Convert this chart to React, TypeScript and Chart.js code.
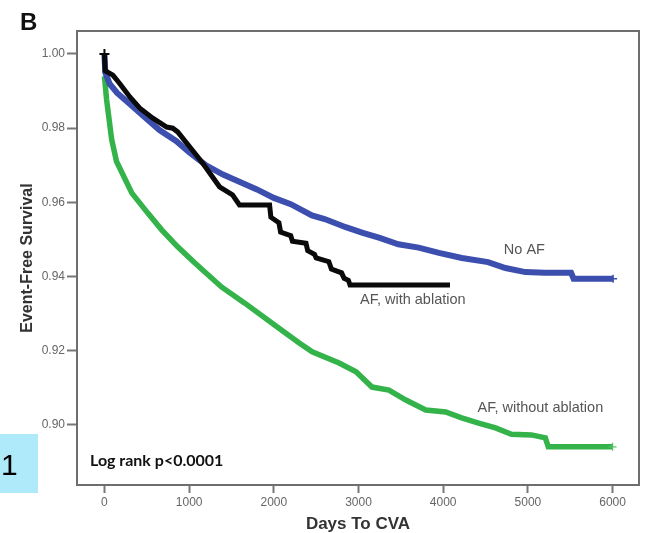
import React, { useEffect, useRef } from "react";
import { Chart, registerables } from "chart.js";
Chart.register(...registerables);

// Tick values
const xTicks = [0, 1000, 2000, 3000, 4000, 5000, 6000];
const yTicks = [0.9, 0.92, 0.94, 0.96, 0.98, 1.0];

// No AF (blue)
const noAfDays = [0, 10, 60, 150, 300, 450, 650, 850, 1000, 1200, 1400, 1600, 1800, 2000, 2200, 2450, 2600, 2850, 3050, 3250, 3470, 3710, 3950, 4220, 4530, 4735, 4970, 5200, 5510, 5540, 6006];
const noAfSurv = [1.0, 0.995, 0.992, 0.9895, 0.9865, 0.9835, 0.9795, 0.9765, 0.9735, 0.97, 0.9675, 0.9655, 0.9635, 0.9612, 0.9595, 0.9565, 0.9555, 0.9533, 0.9518, 0.9504, 0.9487, 0.9478, 0.9464, 0.945, 0.9439, 0.9423, 0.9412, 0.941, 0.941, 0.9394, 0.9394];

// AF, with ablation (black)
const ablDays = [0, 8, 100, 182, 300, 418, 571, 735, 806, 865, 1006, 1159, 1359, 1512, 1594, 1950, 1965, 2060, 2080, 2200, 2220, 2380, 2400, 2480, 2500, 2650, 2680, 2800, 2830, 2880, 2900, 4080];
const ablSurv = [1.0, 0.9955, 0.9943, 0.992, 0.9884, 0.9854, 0.9827, 0.9803, 0.98, 0.979, 0.975, 0.9706, 0.9642, 0.962, 0.9593, 0.9593, 0.956, 0.9545, 0.952, 0.951, 0.9495, 0.949, 0.947, 0.946, 0.945, 0.944, 0.942, 0.941, 0.9395, 0.939, 0.9377, 0.9377];

// AF, without ablation (green)
const noAblDays = [0, 26, 85, 143, 324, 512, 676, 865, 1065, 1382, 1653, 2041, 2300, 2453, 2771, 2971, 3159, 3359, 3559, 3794, 4029, 4218, 4418, 4618, 4806, 5041, 5206, 5241, 6000];
const noAblSurv = [0.994, 0.9876, 0.977, 0.971, 0.9625, 0.9571, 0.9526, 0.948, 0.9437, 0.9372, 0.9329, 0.9264, 0.9221, 0.9197, 0.9167, 0.9143, 0.9102, 0.9094, 0.9067, 0.904, 0.9035, 0.9019, 0.9005, 0.8992, 0.8975, 0.8973, 0.8965, 0.8941, 0.8941];

// Text labels anchored in data coordinates
const curveLabels = [
  { text: "No AF", day: 4959, surv: 0.9472 },
  { text: "AF, with ablation", day: 3641, surv: 0.9337 },
  { text: "AF, without ablation", day: 5147, surv: 0.9046 },
];
const statText = "Log rank p<0.0001";

const toPts = (d: number[], s: number[]) => d.map((x, i) => ({ x, y: s[i] }));

const overlay = {
  id: "overlay",
  afterDraw(chart: any) {
    const { ctx, chartArea: a, scales } = chart;
    const x = scales.x;
    const y = scales.y;
    ctx.save();
    // frame
    ctx.strokeStyle = "#6e6e6e";
    ctx.lineWidth = 2;
    ctx.strokeRect(a.left, a.top, a.right - a.left, a.bottom - a.top);
    // curve labels
    ctx.fillStyle = "#555";
    ctx.font = "14.5px 'Liberation Sans', Arial, sans-serif";
    ctx.textAlign = "center";
    ctx.textBaseline = "middle";
    curveLabels.forEach((l) => {
      ctx.fillText(l.text, x.getPixelForValue(l.day), y.getPixelForValue(l.surv));
    });
    // stat text
    ctx.fillStyle = "#111";
    ctx.font = "bold 16px Lato, 'Open Sans', sans-serif";
    ctx.textAlign = "left";
    ctx.fillText(statText, a.left + 13, y.getPixelForValue(0.8903));
    // panel letter
    ctx.fillStyle = "#111";
    ctx.font = "bold 24px 'Liberation Sans', Arial, sans-serif";
    ctx.textAlign = "left";
    ctx.textBaseline = "alphabetic";
    ctx.fillText("B", 20, 30);
    // "1" badge
    ctx.fillStyle = "#aeeaf9";
    ctx.fillRect(0, 434, 38, 59);
    ctx.fillStyle = "#000";
    ctx.font = "30px 'Liberation Sans', Arial, sans-serif";
    ctx.fillText("1", 1, 475);
    ctx.restore();
  },
};

export default function App() {
  const ref = useRef<HTMLCanvasElement | null>(null);
  useEffect(() => {
    if (!ref.current) return;
    const lastOnly = (n: number, r: number) => (c: any) => (c.dataIndex === n - 1 ? r : 0);
    const chart = new Chart(ref.current, {
      type: "line",
      data: {
        datasets: [
          {
            label: "AF, with ablation",
            data: toPts(ablDays, ablSurv),
            borderColor: "#0a0a0a",
            backgroundColor: "#0a0a0a",
            borderWidth: 5,
            pointStyle: "cross",
            pointRadius: (c: any) => (c.dataIndex === 0 ? 5 : 0),
            pointBorderWidth: 2,
            pointBorderColor: "#0a0a0a",
            tension: 0,
          },
          {
            label: "No AF",
            data: toPts(noAfDays, noAfSurv),
            borderColor: "#3c4fae",
            backgroundColor: "#3c4fae",
            borderWidth: 6,
            pointStyle: "cross",
            pointRadius: lastOnly(noAfDays.length, 4),
            pointBorderWidth: 1.5,
            pointBorderColor: "#3c4fae",
            tension: 0,
          },
          {
            label: "AF, without ablation",
            data: toPts(noAblDays, noAblSurv),
            borderColor: "#33b34a",
            backgroundColor: "#33b34a",
            borderWidth: 5.5,
            pointStyle: "cross",
            pointRadius: lastOnly(noAblDays.length, 4),
            pointBorderWidth: 1.2,
            pointBorderColor: "#55c068",
            tension: 0,
          },
        ],
      },
      options: {
        animation: false,
        responsive: false,
        devicePixelRatio: 1,
        events: [],
        layout: { padding: { left: 0, top: 31, right: 5, bottom: 0 } },
        plugins: { legend: { display: false }, tooltip: { enabled: false }, title: { display: false } },
        scales: {
          x: {
            type: "linear",
            min: -324,
            max: 6312,
            afterBuildTicks: (s: any) => {
              s.ticks = xTicks.map((v) => ({ value: v }));
            },
            afterFit: (s: any) => {
              s.height = 48;
            },
            ticks: {
              color: "#666",
              padding: 2,
              maxRotation: 0,
              font: { family: "'Liberation Sans', Arial, sans-serif", size: 12 },
              callback: (v: any) => String(v),
            },
            grid: { drawOnChartArea: false, drawTicks: true, tickLength: 8, tickColor: "#777", tickWidth: 2, color: "#777" },
            border: { display: false },
            title: {
              display: true,
              text: "Days To CVA",
              color: "#333",
              padding: { top: 0, bottom: 0 },
              font: { family: "'Liberation Sans', Arial, sans-serif", size: 17, weight: "bold", lineHeight: 1 },
            },
          },
          y: {
            type: "linear",
            min: 0.8838,
            max: 1.0062,
            afterBuildTicks: (s: any) => {
              s.ticks = yTicks.map((v) => ({ value: v }));
            },
            afterFit: (s: any) => {
              s.width = 77;
            },
            ticks: {
              color: "#666",
              padding: 2,
              font: { family: "'Liberation Sans', Arial, sans-serif", size: 12 },
              callback: (v: any) => Number(v).toFixed(2),
            },
            grid: { drawOnChartArea: false, drawTicks: true, tickLength: 10, tickColor: "#777", tickWidth: 2, color: "#777" },
            border: { display: false },
            title: {
              display: true,
              text: "Event-Free Survival",
              color: "#333",
              padding: { top: 20, bottom: 0 },
              font: { family: "'Liberation Sans', Arial, sans-serif", size: 16, weight: "bold", lineHeight: 1 },
            },
          },
        },
      } as any,
      plugins: [overlay],
    });
    return () => chart.destroy();
  }, []);
  return (
    <div style={{ position: "absolute", left: 0, top: 0, width: 646, height: 533, background: "#fff" }}>
      <canvas ref={ref} width={646} height={533} style={{ display: "block" }} />
    </div>
  );
}
